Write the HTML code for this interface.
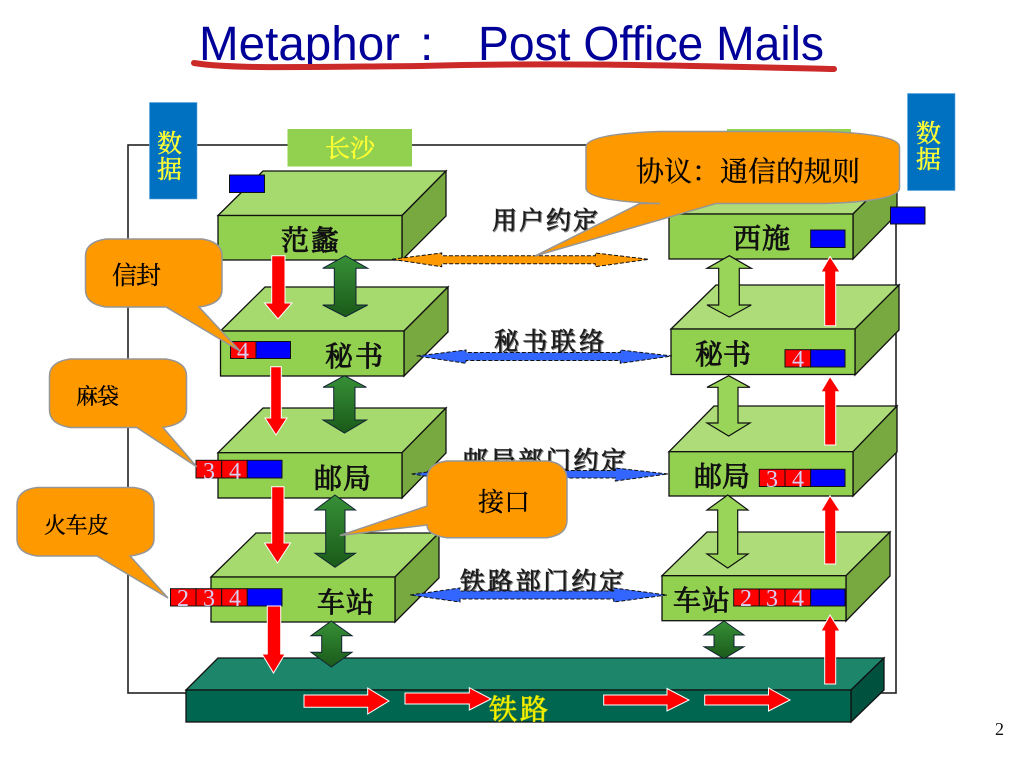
<!DOCTYPE html>
<html><head><meta charset="utf-8"><title>Metaphor: Post Office Mails</title>
<style>
html,body{margin:0;padding:0;background:#fff;width:1024px;height:768px;overflow:hidden}
svg{display:block}
text{font-family:"Liberation Serif","Noto Serif CJK SC",serif}
.t{fill:#111;stroke:#111;stroke-width:.9;font-size:28px}
.p{fill:#1a1a1a;stroke:#222;stroke-width:.7;font-size:25px;filter:drop-shadow(1px 1px 0 #888)}
.c{fill:#000;stroke:#000;stroke-width:.3;font-size:25px}
.d{fill:#d8d0f4;font-size:24px}
.y{fill:#ffff33;stroke:#ffff33;stroke-width:.4;font-size:25px}
.top{fill:#a6da6e;stroke:#111;stroke-width:1.3}
.topr{fill:#aedc79;stroke:#111;stroke-width:1.3}
.front{fill:#92d050;stroke:#111;stroke-width:1.3}
.side{fill:#78a840;stroke:#111;stroke-width:1.3}
.ra{fill:#ff0000;stroke:#fff;stroke-width:1}
.dg{fill:url(#g);stroke:#123;stroke-width:1}
.lg{fill:#99d558;stroke:#111;stroke-width:1.2}
.or{fill:#ff9900;stroke:#111;stroke-width:1;stroke-dasharray:4 2}
.bl{fill:#3366ff;stroke:#111;stroke-width:1;stroke-dasharray:4 2}
.co{fill:#ff9900;stroke:#969696;stroke-width:1.5}
.r{fill:#ff0000;stroke:#111;stroke-width:1}
.b{fill:#0000ff;stroke:#111;stroke-width:1}
</style></head><body>
<svg width="1024" height="768" viewBox="0 0 1024 768" xmlns="http://www.w3.org/2000/svg">
<defs><linearGradient id="g" x1="0" y1="0" x2="0" y2="1"><stop offset="0" stop-color="#379037"/><stop offset="1" stop-color="#1a5a1a"/></linearGradient></defs>
<rect width="1024" height="768" fill="#fff"/>

<!-- title -->
<text x="199" y="60" font-size="48" fill="#000099" textLength="201" lengthAdjust="spacingAndGlyphs" style="font-family:'Liberation Sans',sans-serif">Metaphor</text>
<text x="420" y="60" font-size="48" fill="#000099" style="font-family:'Liberation Sans',sans-serif">:</text>
<text x="478" y="60" font-size="48" fill="#000099" textLength="346" lengthAdjust="spacingAndGlyphs" style="font-family:'Liberation Sans',sans-serif">Post Office Mails</text>
<path d="M194,63 C230,69 300,67 420,66 C560,62 700,66 834,69" fill="none" stroke="#cc2929" stroke-width="6" stroke-linecap="round"/>

<!-- frame -->
<rect x="128" y="145" width="768" height="548" fill="none" stroke="#222" stroke-width="1.6"/>

<!-- data boxes and place labels -->
<rect x="149.500" y="102.500" width="47.500" height="96.500" fill="#0070c0" stroke="#5aa8e0" stroke-width=".6"/>
<text class="y" x="157" y="152">数</text><text class="y" x="157" y="178">据</text>
<rect x="907.500" y="93.500" width="47.500" height="97" fill="#0070c0" stroke="#5aa8e0" stroke-width=".6"/>
<text class="y" x="916" y="142">数</text><text class="y" x="916" y="168">据</text>
<rect x="287.500" y="129" width="124.500" height="37.500" fill="#92d050"/>
<text class="y" x="325" y="157" textLength="50">长沙</text>
<rect x="727" y="129" width="124" height="37" fill="#92d050"/>

<!-- left stack -->
<polygon class="top" points="218,215.500 263,171 446,171 402,215.500"/><polygon class="side" points="402,215.500 446,171 446,216 402,260"/><rect class="front" x="218" y="215.500" width="184" height="44.500"/>
<polygon class="top" points="220.500,331 265,287 448,287 404,331"/><polygon class="side" points="404,331 448,287 448,332 404,376"/><rect class="front" x="220.500" y="331" width="183.500" height="45"/>
<polygon class="top" points="218,452.700 263,408 446,408 402,452.700"/><polygon class="side" points="402,452.700 446,408 446,453 402,498"/><rect class="front" x="218" y="452.700" width="184" height="45.300"/>
<polygon class="top" points="211,577 256,533 439,533 395,577"/><polygon class="side" points="395,577 439,533 439,578 395,622"/><rect class="front" x="211" y="577" width="184" height="45"/>

<!-- right stack -->
<polygon class="topr" points="669,214 714,170 897,170 853,214"/><polygon class="side" points="853,214 897,170 897,214 853,259"/><rect class="front" x="669" y="214" width="184" height="45"/>
<polygon class="topr" points="671,329 716,285 899,285 855,329"/><polygon class="side" points="855,329 899,285 899,330 855,375"/><rect class="front" x="671" y="329" width="184" height="45.500"/>
<polygon class="topr" points="669,451.700 714,406 897,406 853,451.700"/><polygon class="side" points="853,451.700 897,406 897,452 853,496"/><rect class="front" x="669" y="451.700" width="184" height="44.300"/>
<polygon class="topr" points="662,575.700 707,532 890,532 846,575.700"/><polygon class="side" points="846,575.700 890,532 890,576 846,621"/><rect class="front" x="662" y="575.700" width="184" height="45"/>

<!-- rail -->
<polygon points="186,690 218,658 884,658 851,690" fill="#1d866a" stroke="#111" stroke-width="1.3"/>
<polygon points="851,690 884,658 884,690 851,722" fill="#00523f" stroke="#111" stroke-width="1.3"/>
<rect x="186" y="690" width="665" height="32" fill="#00664f" stroke="#111" stroke-width="1.3"/>

<!-- packets -->
<rect class="b" x="229.500" y="175" width="35" height="17.500"/>
<rect class="b" x="890.500" y="207" width="34.500" height="17"/>
<rect class="b" x="810.700" y="230" width="34.300" height="17.500"/>

<rect class="r" x="230.500" y="341.500" width="25.500" height="17"/><rect class="b" x="256" y="341.500" width="34.500" height="17"/>
<text class="d" x="237" y="359">4</text>

<rect class="r" x="196" y="460.300" width="25.700" height="17.700"/><rect class="r" x="221.700" y="460.300" width="25.600" height="17.700"/><rect class="b" x="247.300" y="460.300" width="34.700" height="17.700"/>
<text class="d" x="203" y="479">3</text><text class="d" x="229" y="479">4</text>

<rect class="r" x="170.500" y="588.700" width="25.500" height="17.300"/><rect class="r" x="196" y="588.700" width="25.700" height="17.300"/><rect class="r" x="221.700" y="588.700" width="25.600" height="17.300"/><rect class="b" x="247.300" y="588.700" width="34.700" height="17.300"/>
<text class="d" x="177" y="606">2</text><text class="d" x="203" y="606">3</text><text class="d" x="229" y="606">4</text>

<rect class="r" x="785" y="349.700" width="25.700" height="17.300"/><rect class="b" x="810.700" y="349.700" width="34.300" height="17.300"/>
<text class="d" x="792" y="367">4</text>

<rect class="r" x="759.300" y="469.300" width="25.700" height="17.200"/><rect class="r" x="785" y="469.300" width="25.700" height="17.200"/><rect class="b" x="810.700" y="469.300" width="34.300" height="17.200"/>
<text class="d" x="766" y="487">3</text><text class="d" x="792" y="487">4</text>

<rect class="r" x="733.700" y="589" width="25.600" height="17"/><rect class="r" x="759.300" y="589" width="25.700" height="17"/><rect class="r" x="785" y="589" width="25.700" height="17"/><rect class="b" x="810.700" y="589" width="34.300" height="17"/>
<text class="d" x="740" y="606">2</text><text class="d" x="766" y="606">3</text><text class="d" x="792" y="606">4</text>

<!-- layer labels -->
<text class="t" x="281" y="250" textLength="58">范蠡</text>
<text class="t" x="325" y="366" textLength="58">秘书</text>
<text class="t" x="314" y="488" textLength="57">邮局</text>
<text class="t" x="317" y="612" textLength="57">车站</text>
<text class="t" x="733" y="248" textLength="57">西施</text>
<text class="t" x="695" y="364" textLength="56">秘书</text>
<text class="t" x="694" y="486" textLength="56">邮局</text>
<text class="t" x="673" y="610" textLength="57">车站</text>

<!-- protocol labels -->
<text class="p" x="492" y="229" textLength="106">用户约定</text>
<text class="p" x="494" y="350" textLength="110">秘书联络</text>
<text class="p" x="463" y="469" textLength="163">邮局部门约定</text>
<text class="p" x="460" y="590" textLength="164">铁路部门约定</text>

<!-- horizontal arrows -->
<polygon class="or" points="392,259.300 441.700,253 441.700,255.700 595.300,255.700 595.300,253 648.700,259.300 595.300,266.700 595.300,263.700 441.700,263.700 441.700,266.700"/>
<polygon class="bl" points="416.700,356 466,350 466,352.500 620.300,352.500 620.300,350 672,356 620.300,363.300 620.300,360.500 466,360.500 466,363.300"/>
<polygon class="bl" points="411.700,474 461,468 461,470.500 615.300,470.500 615.300,468 668,474 615.300,481 615.300,478 461,478 461,481"/>
<polygon class="bl" points="410,595 460,588 460,591 613.700,591 613.700,588 667,595 613.700,602 613.700,599 460,599 460,602"/>

<!-- vertical double arrows -->
<polygon class="dg" points="345.500,255.700 367.700,268.300 356,268.300 356,305 367.700,305 345.500,316.700 322.700,305 334.300,305 334.300,268.300 322.700,268.300"/>
<polygon class="dg" points="344.500,375.700 366.500,387.300 355,387.300 355,420 366.500,420 344.500,433 323,420 333.700,420 333.700,387.300 323,387.300"/>
<polygon class="dg" points="335,495 355.500,510 345,510 345,553.300 355.500,553.300 335,567.300 315,553.300 325.700,553.300 325.700,510 315,510"/>
<polygon class="dg" points="331.300,621 352,635.700 341.700,635.700 341.700,652.300 352,652.300 331.300,667 311,652.300 321.700,652.300 321.700,635.700 311,635.700"/>
<polygon class="lg" points="729.300,255.700 751.300,268.300 739.300,268.300 739.300,305 751.300,305 729.300,317 707,305 718.700,305 718.700,268.300 707,268.300"/>
<polygon class="lg" points="728.700,375.700 750,387.300 738,387.300 738,423 750,423 728.700,436 707,423 718,423 718,387.300 707,387.300"/>
<polygon class="lg" points="727.700,495 748,510 737.700,510 737.700,554 748,554 727.700,568 707,554 717.700,554 717.700,510 707,510"/>
<polygon class="dg" points="724,621 744,635 734,635 734,646.700 744,646.700 724,658.700 704,646.700 714,646.700 714,635 704,635"/>

<!-- red arrows -->
<polygon class="ra" points="271.700,255.700 285,255.700 285,303 292,303 278,319 264.500,303 271.700,303"/>
<polygon class="ra" points="270.700,366.700 281.300,366.700 281.300,418 287,418 276,435 265,418 270.700,418"/>
<polygon class="ra" points="271.700,486.700 284,486.700 284,543 290.500,543 277.500,563 264.500,543 271.700,543"/>
<polygon class="ra" points="267.300,606 280.700,606 280.700,654 285,654 273.500,673 262,654 267.300,654"/>
<polygon class="ra" points="824.700,325.700 835.700,325.700 835.700,272 840,272 830,256.500 821,272 824.700,272"/>
<polygon class="ra" points="824.700,445 835.700,445 835.700,391.700 840,391.700 830,376.500 821,391.700 824.700,391.700"/>
<polygon class="ra" points="824.700,564 835.700,564 835.700,511 840,511 830,495.700 821,511 824.700,511"/>
<polygon class="ra" points="824.700,684 835.700,684 835.700,631 840,631 830,615 821,631 824.700,631"/>
<polygon class="ra" points="304,695 367.700,695 367.700,688 389,701 367.700,714 367.700,707.300 304,707.300"/>
<polygon class="ra" points="405,693 469.300,693 469.300,687.700 491,699 469.300,710 469.300,704 405,704"/>
<polygon class="ra" points="603.700,695 667,695 667,688.500 689,700 667,711 667,705 603.700,705"/>
<polygon class="ra" points="704.700,695 768.500,695 768.500,688 790,700 768.500,711 768.500,705 704.700,705"/>

<text x="489" y="719" font-size="28" textLength="59" style="fill:#ffff00;stroke:#dd0;stroke-width:.9">铁路</text>

<!-- callouts -->
<path class="co" d="M106,239 H202 Q222,242 222,256 V290 Q222,304 199,307 L240,351 L166,307 H106 Q85.500,304 85.500,290 V256 Q85.500,242 106,239 Z"/>
<text class="c" x="112" y="284" textLength="49">信封</text>
<path class="co" d="M70,359 H166 Q186.500,362 186.500,376 V410 Q186.500,424 163,427.500 L196.700,466.700 L136.700,427.500 H70 Q49.500,424 49.500,410 V376 Q49.500,362 70,359 Z"/>
<text class="c" x="76" y="404" style="font-size:22px" textLength="43">麻袋</text>
<path class="co" d="M37,487.500 H134 Q154,490 154,505 V539 Q154,553 130,556 L168,598 L97,556 H37 Q17,553 17,539 V505 Q17,490 37,487.500 Z"/>
<text class="c" x="44" y="533" style="font-size:22px" textLength="65">火车皮</text>
<path class="co" d="M447,461 H547 Q567,463 567,480 V520 Q567,535 547,537.700 H447 Q427,535 427,525 L340,535.500 L427,506 V480 Q427,463 447,461 Z"/>
<text class="c" x="478" y="511" style="font-size:26px" textLength="52">接口</text>
<path class="co" d="M660,131.500 H825 Q899.500,134 899.500,147 V188 Q899.500,201 825,203.500 H716 L535,256 L640,203.500 H660 Q586,201 586,188 V147 Q586,134 660,131.500 Z"/>
<text class="c" x="636" y="181" style="font-size:28px" textLength="224">协议：通信的规则</text>

<text x="995" y="735" font-size="18" fill="#111">2</text>
</svg>
</body></html>
